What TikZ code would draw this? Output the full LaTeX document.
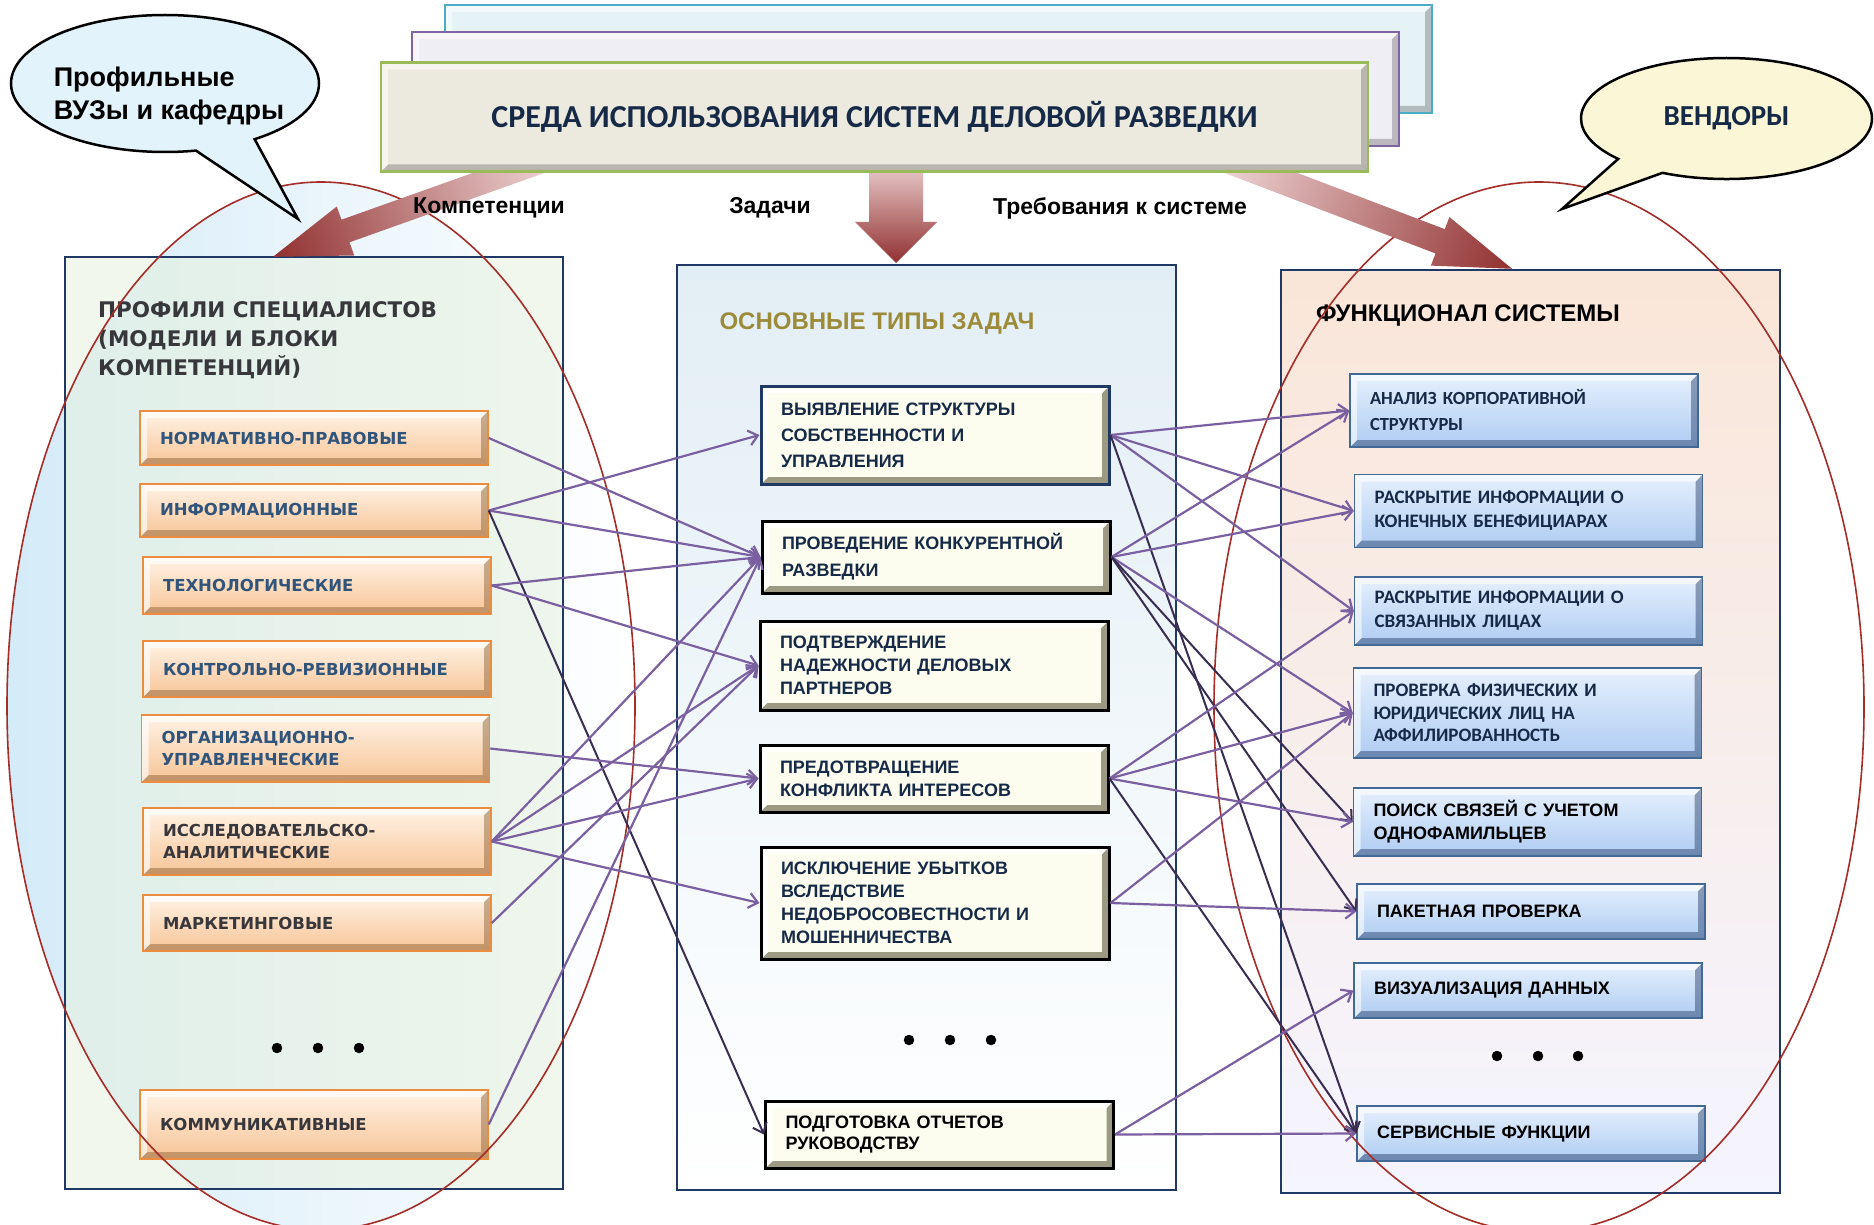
\documentclass[tikz,border=0pt]{standalone}
\usepackage{fontspec}
\setmainfont{Liberation Sans}
\newfontfamily\calibri{Carlito}
\newfontfamily\verdana{DejaVu Sans}
\usetikzlibrary{arrows.meta,shapes.callouts}

\definecolor{lien}{RGB}{122,96,160}
\definecolor{liensombre}{RGB}{58,45,82}
\definecolor{cadre}{RGB}{31,56,100}
\definecolor{ovale}{RGB}{165,45,40}
\definecolor{marine}{RGB}{22,42,72}
\definecolor{olive}{RGB}{156,140,58}
\definecolor{gristexte}{RGB}{55,55,60}
\definecolor{peachtop}{RGB}{255,243,230}
\definecolor{peachbot}{RGB}{247,196,150}
\definecolor{peachbord}{RGB}{236,140,62}
\definecolor{lbleu}{RGB}{48,84,122}
\definecolor{bluetop}{RGB}{230,240,253}
\definecolor{bluebot}{RGB}{174,204,242}
\definecolor{bluebord}{RGB}{66,104,150}
\definecolor{creme}{RGB}{252,253,238}
\definecolor{flechepale}{RGB}{246,226,226}
\definecolor{flechefonce}{RGB}{145,48,48}
\definecolor{panL}{RGB}{230,241,222}
\definecolor{panM}{RGB}{226,238,245}
\definecolor{panR}{RGB}{250,230,216}
\definecolor{ovalebleu}{RGB}{212,235,248}
\definecolor{cyanbord}{RGB}{75,172,198}
\definecolor{cyanfond}{RGB}{230,243,246}
\definecolor{violetbord}{RGB}{128,100,162}
\definecolor{violetfond}{RGB}{240,238,245}
\definecolor{vertbord}{RGB}{155,187,89}
\definecolor{beige}{RGB}{236,234,223}
\definecolor{bullebleu}{RGB}{227,243,252}
\definecolor{bullejaune}{RGB}{251,246,213}

\newcommand{\bevw}{7pt}
% grosse fleche : depart, angle, longueur, demi-tige, demi-tete, tete
\newcommand{\grossefleche}[6]{%
  \begin{scope}[transform canvas={shift={#1},rotate=#2}]
    \shade[left color=flechepale,right color=flechefonce] (0,-#4) -- ({#3-#6},-#4) -- ({#3-#6},-#5) -- (#3,0) -- ({#3-#6},#5) -- ({#3-#6},#4) -- (0,#4) -- cycle;
  \end{scope}}

\begin{document}
\begin{tikzpicture}[x=1pt,y=-1pt,>={Straight Barb[length=9pt,width=15pt]},
  bevel/.style 2 args={path picture={
    \fill[#1] (path picture bounding box.north east) -- (path picture bounding box.south east) -- ([shift={(-\bevw,\bevw)}]path picture bounding box.south east) -- ([shift={(-\bevw,-\bevw)}]path picture bounding box.north east) -- cycle;
    \fill[#1] (path picture bounding box.south west) -- (path picture bounding box.south east) -- ([shift={(-\bevw,\bevw)}]path picture bounding box.south east) -- ([shift={(\bevw,\bevw)}]path picture bounding box.south west) -- cycle;
    \fill[#2] (path picture bounding box.north west) -- (path picture bounding box.north east) -- ([shift={(-\bevw,-\bevw)}]path picture bounding box.north east) -- ([shift={(\bevw,-\bevw)}]path picture bounding box.north west) -- cycle;
    \fill[#2] (path picture bounding box.north west) -- (path picture bounding box.south west) -- ([shift={(\bevw,\bevw)}]path picture bounding box.south west) -- ([shift={(\bevw,-\bevw)}]path picture bounding box.north west) -- cycle;
  }},
  lbox/.style={draw=peachbord,line width=1.5,top color=peachtop,bottom color=peachbot,
    bevel={fill=brown!70!black,fill opacity=.45}{fill=white,fill opacity=.65},
    minimum width=348,text width=308,inner xsep=20,inner ysep=2,align=left,
    font=\verdana\bfseries\fontsize{16.5}{22}\selectfont,text=lbleu},
  mbox/.style={draw=black,line width=3,fill=creme,
    bevel={fill=black!60!olive,fill opacity=.5}{fill=white,fill opacity=.8},
    minimum width=348,text width=308,inner xsep=20,inner ysep=2,align=left,
    font=\bfseries\fontsize{18}{23}\selectfont,text=marine},
  rbox/.style={draw=bluebord,line width=1.5,top color=bluetop,bottom color=bluebot,
    bevel={fill=cadre,fill opacity=.45}{fill=white,fill opacity=.6},
    minimum width=348,text width=308,inner xsep=20,inner ysep=2,align=left,
    font=\calibri\bfseries\fontsize{19}{24}\selectfont,text=marine},
  rboxb/.style={rbox,font=\bfseries\fontsize{18}{23}\selectfont,text=black},
  hdr/.style={line width=2.5,minimum width=987,
    bevel={fill=black,fill opacity=.22}{fill=white,fill opacity=.5}},
  panneau/.style={draw=cadre,line width=2},
  fleche/.style={->,draw=lien,line width=2.2},
  flechesombre/.style={->,draw=liensombre,line width=2},
  bulle/.style={ellipse callout,draw=black,line width=2.5,inner sep=0},
  etiq/.style={font=\bfseries\fontsize{23}{26}\selectfont}]
\fill[white] (0,0) rectangle (1874,1225);
\useasboundingbox (0,0) rectangle (1874,1225);

% panneaux
\shade[left color=ovalebleu,right color=white] (321,706) ellipse [x radius=314pt,y radius=524pt];
\draw[panneau,fill=panL,fill opacity=.55] (65,257) rectangle (563,1189);
\draw[panneau,top color=panM,bottom color=white] (677,265) rectangle (1176,1190);
\draw[panneau,top color=panR,bottom color=white!96!blue] (1281,270) rectangle (1780,1193);

% titres des panneaux
\node[anchor=north west,inner sep=0,align=left,font=\verdana\bfseries\fontsize{21.5}{29}\selectfont,text=gristexte] (titreL) at (98,301) {ПРОФИЛИ СПЕЦИАЛИСТОВ\\(МОДЕЛИ И БЛОКИ\\КОМПЕТЕНЦИЙ)};
\node[font=\bfseries\fontsize{24}{27}\selectfont,text=olive] (titreM) at (877,324) {ОСНОВНЫЕ ТИПЫ ЗАДАЧ};
\node[font=\bfseries\fontsize{24}{27}\selectfont] (titreR) at (1468,316) {ФУНКЦИОНАЛ СИСТЕМЫ};

% profils
\node[lbox,minimum height=54] (L1) at (314,438) {НОРМАТИВНО-ПРАВОВЫЕ};
\node[lbox,minimum height=53] (L2) at (314,510.5) {ИНФОРМАЦИОННЫЕ};
\node[lbox,minimum height=57] (L3) at (317,585.5) {ТЕХНОЛОГИЧЕСКИЕ};
\node[lbox,minimum height=56] (L4) at (317,669) {КОНТРОЛЬНО-РЕВИЗИОННЫЕ};
\node[lbox,minimum height=67] (L5) at (315.5,748.5) {ОРГАНИЗАЦИОННО-\\УПРАВЛЕНЧЕСКИЕ};
\node[lbox,minimum height=67,text=gristexte] (L6) at (317,841.5) {ИССЛЕДОВАТЕЛЬСКО-\\АНАЛИТИЧЕСКИЕ};
\node[lbox,minimum height=56,text=gristexte] (L7) at (317,923) {МАРКЕТИНГОВЫЕ};
\node[lbox,minimum height=69,text=gristexte] (L8) at (314,1124.5) {КОММУНИКАТИВНЫЕ};
\filldraw (277,1048) circle (5pt);
\filldraw (318,1048) circle (5pt);
\filldraw (359,1048) circle (5pt);

% taches
\node[mbox,draw=cadre,minimum height=98,font=\bfseries\fontsize{18}{26}\selectfont] (M1) at (935,435) {ВЫЯВЛЕНИЕ СТРУКТУРЫ\\СОБСТВЕННОСТИ И\\УПРАВЛЕНИЯ};
\node[mbox,minimum height=72,font=\bfseries\fontsize{18}{27}\selectfont] (M2) at (936,557) {ПРОВЕДЕНИЕ КОНКУРЕНТНОЙ\\РАЗВЕДКИ};
\node[mbox,minimum height=89] (M3) at (934,665.5) {ПОДТВЕРЖДЕНИЕ\\НАДЕЖНОСТИ ДЕЛОВЫХ\\ПАРТНЕРОВ};
\node[mbox,minimum height=67] (M4) at (934,778.5) {ПРЕДОТВРАЩЕНИЕ\\КОНФЛИКТА ИНТЕРЕСОВ};
\node[mbox,minimum height=112] (M5) at (935,903) {ИСКЛЮЧЕНИЕ УБЫТКОВ\\ВСЛЕДСТВИЕ\\НЕДОБРОСОВЕСТНОСТИ И\\МОШЕННИЧЕСТВА};
\node[mbox,minimum height=67,text=black,font=\bfseries\fontsize{18}{21.5}\selectfont] (M6) at (939.5,1134.5) {ПОДГОТОВКА ОТЧЕТОВ\\РУКОВОДСТВУ};
\filldraw (909,1040) circle (5pt);
\filldraw (950,1040) circle (5pt);
\filldraw (991,1040) circle (5pt);

% fonctions
\node[rbox,minimum height=73,font=\calibri\bfseries\fontsize{18.5}{26}\selectfont] (R1) at (1524,410.5) {АНАЛИЗ КОРПОРАТИВНОЙ\\СТРУКТУРЫ};
\node[rbox,minimum height=73] (R2) at (1528.5,511) {РАСКРЫТИЕ ИНФОРМАЦИИ О\\КОНЕЧНЫХ БЕНЕФИЦИАРАХ};
\node[rbox,minimum height=68] (R3) at (1528.5,611) {РАСКРЫТИЕ ИНФОРМАЦИИ О\\СВЯЗАННЫХ ЛИЦАХ};
\node[rbox,minimum height=90,font=\calibri\bfseries\fontsize{19}{22.5}\selectfont] (R4) at (1527.5,713) {ПРОВЕРКА ФИЗИЧЕСКИХ И\\ЮРИДИЧЕСКИХ ЛИЦ НА\\АФФИЛИРОВАННОСТЬ};
\node[rboxb,minimum height=68] (R5) at (1527.5,822) {ПОИСК СВЯЗЕЙ С УЧЕТОМ\\ОДНОФАМИЛЬЦЕВ};
\node[rboxb,minimum height=55] (R6) at (1531,911.5) {ПАКЕТНАЯ ПРОВЕРКА};
\node[rboxb,minimum height=55] (R7) at (1528,990.5) {ВИЗУАЛИЗАЦИЯ ДАННЫХ};
\node[rboxb,minimum height=55] (R8) at (1531,1133.5) {СЕРВИСНЫЕ ФУНКЦИИ};
\filldraw (1497,1056) circle (5pt);
\filldraw (1538,1056) circle (5pt);
\filldraw (1578,1056) circle (5pt);

% ovales
\draw[ovale,line width=1.6] (321,706) ellipse [x radius=314pt,y radius=524pt];
\draw[ovale,line width=1.6] (1539,707) ellipse [x radius=325pt,y radius=525pt];

% profils -> taches
\draw[fleche] (L1.east) -- (M2.west);
\draw[fleche] (L2.east) -- (M1.west);
\draw[fleche] (L2.east) -- (M2.west);
\draw[flechesombre] (L2.east) -- (M6.west);
\draw[fleche] (L3.east) -- (M2.west);
\draw[fleche] (L3.east) -- (M3.west);
\draw[fleche] (L5.east) -- (M4.west);
\draw[fleche] (L6.east) -- (M2.west);
\draw[fleche] (L6.east) -- (M3.west);
\draw[fleche] (L6.east) -- (M4.west);
\draw[fleche] (L6.east) -- (M5.west);
\draw[fleche] (L7.east) -- (M3.west);
\draw[fleche] (L8.east) -- (M2.west);

% taches -> fonctions
\draw[fleche] (M1.east) -- (R1.west);
\draw[fleche] (M1.east) -- (R2.west);
\draw[fleche] (M1.east) -- (R3.west);
\draw[flechesombre] (M1.east) -- (R8.west);
\draw[fleche] (M2.east) -- (R1.west);
\draw[fleche] (M2.east) -- (R2.west);
\draw[fleche] (M2.east) -- (R4.west);
\draw[flechesombre] (M2.east) -- (R5.west);
\draw[flechesombre] (M2.east) -- (R6.west);
\draw[fleche] (M4.east) -- (R3.west);
\draw[fleche] (M4.east) -- (R4.west);
\draw[fleche] (M4.east) -- (R5.west);
\draw[flechesombre] (M4.east) -- (R8.west);
\draw[fleche] (M5.east) -- (R4.west);
\draw[fleche] (M5.east) -- (R6.west);
\draw[fleche] (M6.east) -- (R7.west);
\draw[fleche] (M6.east) -- (R8.west);

% grosses fleches
\grossefleche{(573,150)}{199.6}{318.5}{12}{26}{77}
\grossefleche{(896,150)}{-90}{113}{27}{41}{41}
\grossefleche{(1201,150)}{-20.9}{333}{13}{26}{77}

% en-tete
\node[hdr,draw=cyanbord,fill=cyanfond,minimum height=108] (env3) at (938.5,59) {};
\node[hdr,draw=violetbord,fill=violetfond,minimum height=114] (env2) at (905.5,89) {};
\node[hdr,draw=vertbord,fill=beige,minimum height=109,font=\calibri\bfseries\fontsize{32}{36}\selectfont,text=marine] (env) at (874.5,117) {СРЕДА ИСПОЛЬЗОВАНИЯ СИСТЕМ ДЕЛОВОЙ РАЗВЕДКИ};

% bulles
\node[bulle,fill=bullebleu,minimum width=308,minimum height=137,callout absolute pointer={(298,219)},callout pointer arc=24] (vuz) at (165,83.5) {};
\node[font=\bfseries\fontsize{27}{33}\selectfont,align=left] (vuztexte) at (169,96) {Профильные\\ВУЗы и кафедры};
\node[bulle,fill=bullejaune,minimum width=291,minimum height=121,callout absolute pointer={(1562,209)},callout pointer arc=22,font=\calibri\bfseries\fontsize{29}{33}\selectfont,text=marine] (vendors) at (1726.5,118.5) {ВЕНДОРЫ};

% etiquettes
\node[etiq] (comp) at (489,208) {Компетенции};
\node[etiq] (zadachi) at (770,208) {Задачи};
\node[etiq] (treb) at (1120,208) {Требования к системе};
\end{tikzpicture}
\end{document}
